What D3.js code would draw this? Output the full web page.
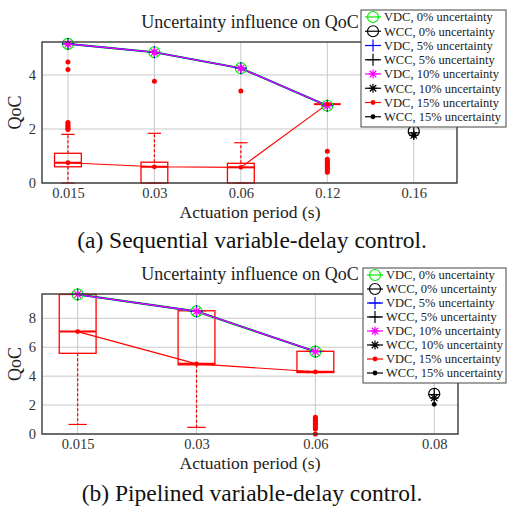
<!DOCTYPE html>
<html>
<head>
<meta charset="utf-8">
<script src="https://cdn.jsdelivr.net/npm/d3@7"></script>
<style>
  body { margin: 0; background: #fff; }
  svg text { font-family: "Liberation Serif", "Times New Roman", Tinos, "DejaVu Serif", serif; }
</style>
</head>
<body>
<svg id="fig" width="507" height="515"></svg>
<script>
// (a) sequential variable-delay control
const catsA = ["0.015", "0.03", "0.06", "0.12", "0.16"];
const vdcA = [5.15, 4.84, 4.25, 2.86];           // VDC 0%, 5%, 10% (same)
const vdc15A = [0.75, 0.60, 0.58, 2.92];         // medians, 15%
const wccA = [1.92, 1.86, 1.76, 1.76];           // WCC 0/5/10/15% at 0.16
const q1A = [0.60, 0, 0, 2.92];
const q3A = [1.10, 0.77, 0.73, 2.92];
const loA = [0, 0, 0, 2.92];
const hiA = [1.80, 1.84, 1.49, 2.92];
const outA = [
  [5.15, 4.48, 4.20, 2.24, 2.18, 2.12, 2.07, 2.02, 1.98],
  [4.84, 3.77],
  [4.25, 3.41],
  [1.18, 0.88, 0.82, 0.76, 0.70, 0.64, 0.58, 0.52, 0.46, 0.40]
];
const yTicksA = [0, 2, 4];

// (b) pipelined variable-delay control
const catsB = ["0.015", "0.03", "0.06", "0.08"];
const vdcB = [9.65, 8.48, 5.70];
const vdc15B = [7.08, 4.85, 4.30];
const wccB = [2.78, 2.72, 2.50, 2.05];
const q1B = [5.58, 4.78, 4.25];
const q3B = [9.65, 8.52, 5.72];
const loB = [0.66, 0.46, 4.25];
const hiB = [9.65, 8.52, 5.72];
const outB = [
  [],
  [],
  [1.15, 1.05, 0.95, 0.85, 0.75, 0.65, 0.55, 0.45, 0.35, 0]
];
const yTicksB = [0, 2, 4, 6, 8];

const legendLabels = ["VDC, 0% uncertainty", "WCC, 0% uncertainty", "VDC, 5% uncertainty",
  "WCC, 5% uncertainty", "VDC, 10% uncertainty", "WCC, 10% uncertainty",
  "VDC, 15% uncertainty", "WCC, 15% uncertainty"];
const legendColors = ["#00ee00", "#000", "#0000ff", "#000", "#ff00ff", "#000", "#ff0000", "#000"];
const legendMarks = ["circle", "circle", "plus", "plus", "star", "star", "dot", "dot"];

const svg = d3.select("#fig");

function marker(g, type, color, x, y) {
  if (type === "circle") {
    g.append("circle").attr("cx", x).attr("cy", y).attr("r", 5.5)
      .attr("fill", "none").attr("stroke", color).attr("stroke-width", 1.2);
  } else if (type === "plus") {
    g.append("path").attr("d", `M${x-6},${y}H${x+6}M${x},${y-6}V${y+6}`)
      .attr("stroke", color).attr("stroke-width", 1.2);
  } else if (type === "star") {
    const s = 4.5, d = s * 0.72;
    g.append("path").attr("d", `M${x-s},${y}H${x+s}M${x},${y-s}V${y+s}M${x-d},${y-d}L${x+d},${y+d}M${x-d},${y+d}L${x+d},${y-d}`)
      .attr("stroke", color).attr("stroke-width", 1.2);
  } else {
    g.append("circle").attr("cx", x).attr("cy", y).attr("r", 2.4).attr("fill", color);
  }
}

function panel(o) {
  const g = svg.append("g");
  const x = d3.scaleLinear().domain(o.xDom).range([42, o.right]);
  const y = d3.scaleLinear().domain([0, o.yMax]).range([o.bottom, o.top]);
  const idx = o.cats.map((c, i) => i + 1);

  // grille
  g.append("g").selectAll("line.v").data(idx).join("line")
    .attr("x1", d => x(d)).attr("x2", d => x(d)).attr("y1", o.top).attr("y2", o.bottom)
    .attr("stroke", "#c8c8c8").attr("stroke-width", 1);
  g.append("g").selectAll("line.h").data(o.yTicks).join("line")
    .attr("x1", 42).attr("x2", o.right).attr("y1", d => y(d)).attr("y2", d => y(d))
    .attr("stroke", "#c8c8c8").attr("stroke-width", 1);

  // axes
  const ax = g.append("g").attr("transform", `translate(0,${o.bottom})`)
    .call(d3.axisBottom(x).tickValues(idx).tickFormat(i => o.cats[i - 1]).tickSize(0).tickPadding(5));
  ax.select(".domain").remove();
  ax.attr("font-family", null);
  ax.selectAll("text").attr("font-size", 14.5).attr("fill", "#333");
  const ay = g.append("g").attr("transform", "translate(42,0)")
    .call(d3.axisLeft(y).tickValues(o.yTicks).tickFormat(d3.format("d")).tickSize(0).tickPadding(6));
  ay.select(".domain").remove();
  ay.attr("font-family", null);
  ay.selectAll("text").attr("font-size", 14.5).attr("fill", "#333");

  // boites (VDC 15%)
  const bw = (x(2) - x(1)) * 0.31;
  const bx = g.append("g");
  o.q1.forEach((q, i) => {
    const cx = x(i + 1);
    bx.append("line").attr("x1", cx).attr("x2", cx).attr("y1", y(o.q3[i])).attr("y2", y(o.hi[i]))
      .attr("stroke", "red").attr("stroke-width", 1.2).attr("stroke-dasharray", "3,2");
    bx.append("line").attr("x1", cx).attr("x2", cx).attr("y1", y(q)).attr("y2", y(o.lo[i]))
      .attr("stroke", "red").attr("stroke-width", 1.2).attr("stroke-dasharray", "3,2");
    [o.hi[i], o.lo[i]].forEach(v => {
      bx.append("line").attr("x1", cx - bw * 0.25).attr("x2", cx + bw * 0.25)
        .attr("y1", y(v)).attr("y2", y(v)).attr("stroke", "red").attr("stroke-width", 1.2);
    });
    bx.append("rect").attr("x", cx - bw / 2).attr("width", bw)
      .attr("y", y(o.q3[i])).attr("height", Math.max(y(q) - y(o.q3[i]), 0))
      .attr("fill", "none").attr("stroke", "red").attr("stroke-width", o.q3[i] === q ? 2.5 : 1.3);
    bx.append("line").attr("x1", cx - bw / 2).attr("x2", cx + bw / 2)
      .attr("y1", y(o.vdc15[i])).attr("y2", y(o.vdc15[i]))
      .attr("stroke", "red").attr("stroke-width", 2);
    o.out[i].forEach(v => {
      bx.append("circle").attr("cx", cx).attr("cy", y(v)).attr("r", 2.5).attr("fill", "red");
    });
  });

  // lignes VDC
  const line = d3.line().x((d, i) => x(i + 1)).y(d => y(d));
  [["#00ee00", 2.2], ["#0000ff", 1.6], ["#ff00ff", 1.1]].forEach(([c, w]) => {
    g.append("path").datum(o.vdc).attr("d", line).attr("fill", "none")
      .attr("stroke", c).attr("stroke-width", w);
  });
  g.append("path").datum(o.vdc15).attr("d", line).attr("fill", "none")
    .attr("stroke", "red").attr("stroke-width", 1.1);

  const mk = g.append("g");
  o.vdc.forEach((v, i) => {
    marker(mk, "circle", "#00ee00", x(i + 1), y(v));
    marker(mk, "plus", "#0000ff", x(i + 1), y(v));
    marker(mk, "star", "#ff00ff", x(i + 1), y(v));
  });
  o.vdc15.forEach((v, i) => marker(mk, "dot", "red", x(i + 1), y(v)));

  // WCC
  const wx = x(o.cats.length);
  ["circle", "plus", "star", "dot"].forEach((m, k) => marker(mk, m, "#000", wx, y(o.wcc[k])));

  // cadre
  g.append("rect").attr("x", 42).attr("y", o.top).attr("width", o.right - 42)
    .attr("height", o.bottom - o.top).attr("fill", "none").attr("stroke", "#3a3a3a").attr("stroke-width", 1.4);

  // textes
  g.append("text").attr("x", 250).attr("y", o.top - 14).attr("text-anchor", "middle")
    .attr("font-size", 18).attr("fill", "#222").text("Uncertainty influence on QoC");
  g.append("text").attr("x", 250).attr("y", o.bottom + 35).attr("text-anchor", "middle")
    .attr("font-size", 17.5).attr("fill", "#222").text("Actuation period (s)");
  g.append("text").attr("transform", `translate(21,${(o.top + o.bottom) / 2}) rotate(-90)`)
    .attr("text-anchor", "middle").attr("font-size", 18).attr("fill", "#222").text("QoC");

  // légende
  const lg = g.append("g");
  lg.append("rect").attr("x", o.legX).attr("y", o.legY).attr("width", 506 - o.legX)
    .attr("height", o.legH).attr("fill", "#fff").attr("stroke", "#444").attr("stroke-width", 1);
  const step = (o.legH - 3) / 8;
  legendLabels.forEach((t, i) => {
    const ly = o.legY + 7 + step * i;
    lg.append("line").attr("x1", o.legX + 4).attr("x2", o.legX + 20).attr("y1", ly).attr("y2", ly)
      .attr("stroke", legendColors[i]).attr("stroke-width", 1.2);
    marker(lg, legendMarks[i], legendColors[i], o.legX + 12, ly);
    lg.append("text").attr("x", o.legX + 23).attr("y", ly + 4.3).attr("font-size", 12.5)
      .attr("fill", "#222").text(t);
  });

  // légende de sous-figure
  svg.append("text").attr("x", 252).attr("y", o.capY).attr("text-anchor", "middle")
    .attr("font-size", 23.5).attr("fill", "#111").text(o.caption);
}

panel({
  cats: catsA, vdc: vdcA, vdc15: vdc15A, wcc: wccA, q1: q1A, q3: q3A, lo: loA, hi: hiA, out: outA,
  yTicks: yTicksA, yMax: 5.22, xDom: [0.7, 5.5], right: 457, top: 42, bottom: 183,
  legX: 361, legY: 10, legH: 117, capY: 248, caption: "(a) Sequential variable-delay control."
});
panel({
  cats: catsB, vdc: vdcB, vdc15: vdc15B, wcc: wccB, q1: q1B, q3: q3B, lo: loB, hi: hiB, out: outB,
  yTicks: yTicksB, yMax: 9.68, xDom: [0.7, 4.2], right: 458, top: 294, bottom: 434,
  legX: 363, legY: 268, legH: 115, capY: 501, caption: "(b) Pipelined variable-delay control."
});
</script>
</body>
</html>
